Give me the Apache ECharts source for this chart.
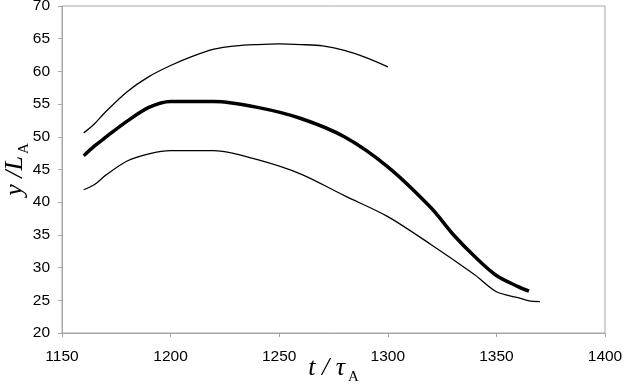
<!DOCTYPE html>
<html>
<head>
<meta charset="utf-8">
<script src="https://cdn.jsdelivr.net/npm/echarts@6/dist/echarts.min.js"></script>
<style>
  html, body { margin: 0; padding: 0; background: #fff; }
  #chart { width: 624px; height: 387px; }
</style>
</head>
<body>
<div id="chart"></div>
<script>
// upper thin curve
var upperX = [1160, 1165, 1170, 1180, 1190, 1200, 1210, 1220, 1230, 1240, 1250, 1260, 1270, 1280, 1290, 1300];
var upperY = [50.6, 52.0, 53.8, 56.9, 59.2, 60.9, 62.3, 63.4, 63.9, 64.1, 64.2, 64.1, 63.9, 63.2, 62.1, 60.7];
// middle thick curve
var midX = [1160, 1165, 1170, 1180, 1190, 1200, 1210, 1220, 1240, 1260, 1280, 1300, 1320, 1330, 1340, 1350, 1360, 1365];
var midY = [47.1, 48.6, 49.9, 52.4, 54.5, 55.4, 55.4, 55.4, 54.5, 52.8, 50.0, 45.4, 39.1, 35.1, 31.7, 28.8, 27.1, 26.4];
// lower thin curve
var lowerX = [1160, 1165, 1170, 1180, 1190, 1200, 1210, 1220, 1240, 1260, 1280, 1300, 1320, 1340, 1350, 1360, 1365, 1370];
var lowerY = [41.9, 42.7, 44.1, 46.3, 47.4, 47.9, 47.9, 47.9, 46.5, 44.3, 41.0, 37.8, 33.5, 28.9, 26.3, 25.4, 24.9, 24.8];

function pairs(xs, ys) {
  var out = [];
  for (var i = 0; i < xs.length; i++) {
    out.push([xs[i], ys[i]]);
  }
  return out;
}

var gray = "#a6a6a6";
var labelFont = { color: "#000", fontFamily: "Liberation Sans", fontSize: 15.5, formatter: function (v) { return String(v); } };
var serif = "Liberation Serif";

var myChart = echarts.init(document.getElementById("chart"));
myChart.setOption({
  animation: false,
  grid: {
    left: 62,
    right: 19,
    top: 6,
    bottom: 54,
    containLabel: false,
    outerBoundsMode: "none",
    show: true,
    borderColor: gray,
    borderWidth: 1
  },
  xAxis: {
    type: "value",
    min: 1150,
    max: 1400,
    interval: 50,
    axisLine: { lineStyle: { color: gray } },
    axisTick: { show: true, length: 4, lineStyle: { color: gray } },
    splitLine: { show: false },
    axisLabel: Object.assign({ margin: 16 }, labelFont),
    name: "{i|t / τ}{s|A}",
    nameLocation: "middle",
    nameGap: 22,
    nameMoveOverlap: false,
    nameTextStyle: {
      rich: {
        i: { fontFamily: serif, fontStyle: "italic", fontSize: 26, color: "#000", verticalAlign: "top", lineHeight: 30 },
        // subscript sits a little below the baseline
        s: { fontFamily: serif, fontSize: 15, color: "#000", verticalAlign: "bottom", lineHeight: 9, padding: [0, 0, 0, 3] }
      }
    }
  },
  yAxis: {
    type: "value",
    min: 20,
    max: 70,
    interval: 5,
    axisLine: { show: true, lineStyle: { color: gray } },
    axisTick: { show: true, length: 4, lineStyle: { color: gray } },
    splitLine: { show: false },
    axisLabel: Object.assign({ margin: 12 }, labelFont),
    name: "{i|y /L}{s|A}",
    nameLocation: "middle",
    nameRotate: 90,
    nameGap: 30,
    nameMoveOverlap: false,
    nameTextStyle: {
      rich: {
        i: { fontFamily: serif, fontStyle: "italic", fontSize: 26, color: "#000", verticalAlign: "top", lineHeight: 30 },
        s: { fontFamily: serif, fontSize: 15, color: "#000", verticalAlign: "bottom", lineHeight: 22, padding: [0, 0, 0, 2] }
      }
    }
  },
  series: [
    {
      name: "upper",
      type: "line",
      smooth: 0.3,
      showSymbol: false,
      lineStyle: { color: "#000", width: 1.3 },
      data: pairs(upperX, upperY)
    },
    {
      name: "middle",
      type: "line",
      smooth: 0.3,
      showSymbol: false,
      lineStyle: { color: "#000", width: 3.5 },
      data: pairs(midX, midY)
    },
    {
      name: "lower",
      type: "line",
      smooth: 0.3,
      showSymbol: false,
      lineStyle: { color: "#000", width: 1.3 },
      data: pairs(lowerX, lowerY)
    }
  ]
});
</script>
</body>
</html>
